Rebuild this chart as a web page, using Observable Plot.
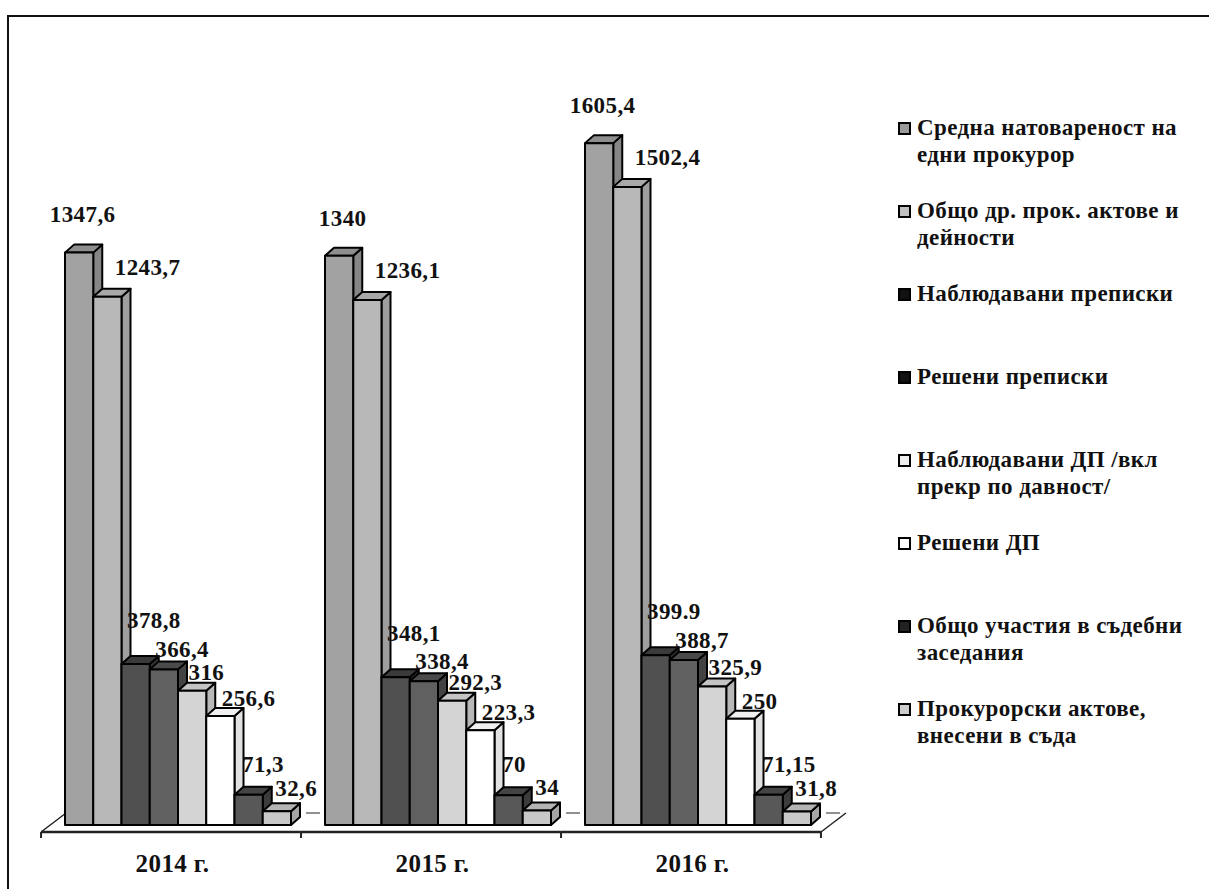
<!DOCTYPE html>
<html><head><meta charset="utf-8">
<script src="https://cdn.jsdelivr.net/npm/d3@7"></script>
<script src="https://cdn.jsdelivr.net/npm/@observablehq/plot@0.6"></script>
<style>
body{margin:0;background:#fff;}
#wrap{position:relative;width:1209px;height:889px;overflow:hidden;font-family:"Liberation Serif","Times New Roman",serif;font-weight:bold;color:#111;}
#frame{position:absolute;left:7px;top:15px;width:1230px;height:900px;border-top:2px solid #111;border-left:2px solid #111;}
#chart{position:absolute;left:0;top:0;}
#legend{position:absolute;left:898px;top:0;}
.item{position:absolute;left:0;display:flex;align-items:flex-start;font-size:23px;line-height:27px;letter-spacing:0.4px;}
.sw{width:9px;height:9px;border:2px solid #000;margin-top:8px;margin-right:6px;flex:none;}
.lt{width:275px;}
</style></head><body>
<div id="wrap"><div id="frame"></div><div id="chart"></div><div id="legend"></div></div>
<script>
// ---- data ----
const years = ["2014", "2015", "2016"];
const series = [
  "Средна натовареност на едни прокурор",
  "Общо др. прок. актове и дейности",
  "Наблюдавани преписки",
  "Решени преписки",
  "Наблюдавани ДП /вкл прекр по давност/",
  "Решени ДП",
  "Общо участия в съдебни заседания",
  "Прокурорски актове, внесени в съда"
];
const values2014 = [1347.6, 1243.7, 378.8, 366.4, 316, 256.6, 71.3, 32.6];
const values2015 = [1340, 1236.1, 348.1, 338.4, 292.3, 223.3, 70, 34];
const values2016 = [1605.4, 1502.4, 399.9, 388.7, 325.9, 250, 71.15, 31.8];
const labels2014 = ["1347,6", "1243,7", "378,8", "366,4", "316", "256,6", "71,3", "32,6"];
const labels2015 = ["1340", "1236,1", "348,1", "338,4", "292,3", "223,3", "70", "34"];
const labels2016 = ["1605,4", "1502,4", "399.9", "388,7", "325,9", "250", "71,15", "31,8"];

// ---- styles / layout ----
const frontFill = ["#a2a2a2", "#b8b8b8", "#505050", "#606060", "#d4d4d4", "#ffffff", "#585858", "#c8c8c8"];
const topFill   = ["#8e8e8e", "#a8a8a8", "#3a3a3a", "#4a4a4a", "#c4c4c4", "#f0f0f0", "#444444", "#b4b4b4"];
const sideFill  = ["#868686", "#9e9e9e", "#333333", "#434343", "#b8b8b8", "#e2e2e2", "#3c3c3c", "#a6a6a6"];
const swatchFill = ["#9a9a9a", "#c0c0c0", "#111", "#111", "#eee", "#fff", "#222", "#ccc"];
const legendTop0 = 114, legendStep = 83;
const labelDx = [3, 21, 5, 5, 10, 15, 7, 12];
const labelDy = [-38, -30, -44, -20, -19, -18, -31, -23];

const valuesByYear = [values2014, values2015, values2016];
const labelsByYear = [labels2014, labels2015, labels2016];
const rows = [];
years.forEach((y, yi) => series.forEach((s, si) => rows.push({
  year: y, yi, series: s, si, value: valuesByYear[yi][si], label: labelsByYear[yi][si]
})));

const DX = 9, DY = 8;       // 3-D depth of the bars
const n = series.length;
const pad = 0.6;            // floor overhang (in bar units)

function bar3d(index, scales, values) {
  const g = d3.create("svg:g").attr("stroke", "#000").attr("stroke-width", 2).attr("stroke-linejoin", "round");
  const idx = Array.from(index).sort((a, b) => rows[a].si - rows[b].si);
  for (const i of idx) {
    const si = rows[i].si;
    const x1 = values.x1[i], x2 = values.x2[i], yb = values.y1[i], yt = values.y2[i];
    g.append("path").attr("fill", sideFill[si])
      .attr("d", `M${x2},${yt}L${x2 + DX},${yt - DY}L${x2 + DX},${yb - DY}L${x2},${yb}Z`);
    g.append("path").attr("fill", topFill[si])
      .attr("d", `M${x1},${yt}L${x1 + DX},${yt - DY}L${x2 + DX},${yt - DY}L${x2},${yt}Z`);
    g.append("rect").attr("fill", frontFill[si])
      .attr("x", x1).attr("y", yt).attr("width", x2 - x1).attr("height", yb - yt);
  }
  return g.node();
}

function floor3d(index, scales, values) {
  const g = d3.create("svg:g").attr("fill", "none").attr("stroke", "#222");
  for (const i of index) {
    const yi = i;
    const x1 = values.x1[i], x2 = values.x2[i], y0 = values.y1[i];
    const fy = y0 + 7, by = y0 - 12;
    g.append("path").attr("stroke-width", 2.5).attr("d", `M${x1 - 7},${fy}H${x2 - 7}`);
    g.append("path").attr("stroke-width", 1).attr("stroke-dasharray", "14 6").attr("d", `M${x1 + 18},${by}H${x2 + 18}`);
    g.append("path").attr("stroke-width", 2).attr("d", `M${x1 - 7},${fy}v6`);
    if (yi === 0) g.append("path").attr("stroke-width", 1.5).attr("d", `M${x1 - 7},${fy}L${x1 + 18},${by}`);
    if (yi === years.length - 1) {
      g.append("path").attr("stroke-width", 2).attr("d", `M${x2 - 7},${fy}v6`);
      g.append("path").attr("stroke-width", 1.5).attr("d", `M${x2 - 7},${fy}L${x2 + 18},${by}`);
    }
  }
  return g.node();
}

const font = {fontSize: 23, fontWeight: "bold", fill: "#111"};
const chart = Plot.plot({
  width: 860, height: 889,
  marginLeft: 64, marginRight: 48, marginTop: 18, marginBottom: 64,
  fx: {domain: years, paddingInner: 0.13, paddingOuter: 0, axis: null},
  x: {domain: [0, n], axis: null},
  y: {domain: [0, 1900], axis: null},
  style: {fontFamily: "'Liberation Serif', 'Times New Roman', serif", fontSize: "23px", fontWeight: "bold",
          background: "transparent", color: "#111", overflow: "visible", letterSpacing: "0.4px"},
  marks: [
    Plot.rect(years, {fx: d => d, x1: () => -pad, x2: () => n + pad, y1: () => 0, y2: () => 0, render: floor3d}),
    Plot.rect(rows, {fx: "year", x1: "si", x2: d => d.si + 1, y1: () => 0, y2: "value", render: bar3d}),
    ...series.map((s, si) => Plot.text(rows.filter(d => d.si === si), {
      fx: "year", x: d => si === 0 ? d.si + 0.5 : d.si, y: "value", text: "label",
      textAnchor: si === 0 ? "middle" : "start", dx: labelDx[si], dy: labelDy[si], ...font
    })),
    Plot.text(years, {fx: d => d, text: d => d + " г.", frameAnchor: "bottom", lineAnchor: "middle",
      dy: 38, dx: -6, ...font, fontSize: 25})
  ]
});
document.getElementById("chart").appendChild(chart);

const legend = d3.select("#legend");
series.forEach((s, si) => {
  const it = legend.append("div").attr("class", "item").style("top", (legendTop0 + si * legendStep) + "px");
  it.append("div").attr("class", "sw").style("background", swatchFill[si]);
  it.append("div").attr("class", "lt").text(s);
});
</script>
</body></html>
